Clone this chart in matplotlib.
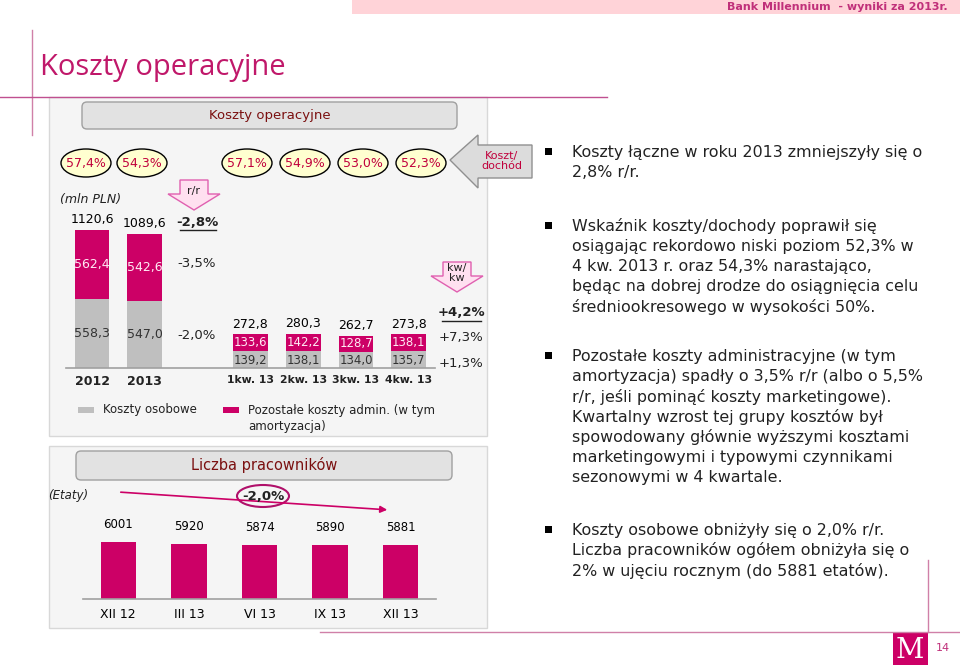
import matplotlib.pyplot as plt
from matplotlib.patches import Rectangle, FancyBboxPatch, Ellipse, Polygon

# --- Data ---
cost_labels = ['2012', '2013', '1kw. 13', '2kw. 13', '3kw. 13', '4kw. 13']
cost_pos = [0, 1, 3, 4, 5, 6]
staff_costs = [558.3, 547.0, 139.2, 138.1, 134.0, 135.7]
admin_costs = [562.4, 542.6, 133.6, 142.2, 128.7, 138.1]
total_costs = [1120.6, 1089.6, 272.8, 280.3, 262.7, 273.8]
cost_income = ['57,4%', '54,3%', '57,1%', '54,9%', '53,0%', '52,3%']
yoy_changes = ['-2,8%', '-3,5%', '-2,0%']
qoq_changes = ['+4,2%', '+7,3%', '+1,3%']

emp_labels = ['XII 12', 'III 13', 'VI 13', 'IX 13', 'XII 13']
employees = [6001, 5920, 5874, 5890, 5881]

PINK = '#CC0066'
GRAY = '#BFBFBF'
DARKRED = '#7B1010'
TXT = '#222222'

W, H = 960, 665
fig = plt.figure(figsize=(W / 100, H / 100), dpi=100)
bg = fig.add_axes([0, 0, 1, 1], zorder=0)
bg.set_xlim(0, W)
bg.set_ylim(H, 0)
bg.axis('off')


def fa(x0, y0, x1, y1):
    # pixel box -> figure fraction rect
    return [x0 / W, 1 - y1 / H, (x1 - x0) / W, (y1 - y0) / H]


# --- Slide decoration ---
bg.add_patch(Rectangle((352, 0), 608, 14, color='#FFD3D8', lw=0))
bg.text(948, 7, 'Bank Millennium  - wyniki za 2013r.', ha='right', va='center',
        fontsize=8, color='#C0307A', fontweight='bold')
bg.plot([32, 32], [30, 135], color='#D080A8', lw=1)
bg.plot([0, 607], [97, 97], color='#C05090', lw=1)
bg.text(40, 68, 'Koszty operacyjne', fontsize=21, color='#C0186A', va='center',
        family='Open Sans')

# panels
bg.add_patch(Rectangle((49, 97), 438, 339, facecolor='#F5F5F5', edgecolor='#D8D8D8', lw=1))
bg.add_patch(Rectangle((49, 446), 438, 182, facecolor='#F5F5F5', edgecolor='#D8D8D8', lw=1))
bg.add_patch(FancyBboxPatch((82, 102), 375, 27, boxstyle='round,pad=0,rounding_size=5',
                            facecolor='#E2E2E2', edgecolor='#A0A0A0', lw=1))
bg.text(270, 116, 'Koszty operacyjne', ha='center', va='center', fontsize=9.5, color=DARKRED)
bg.add_patch(FancyBboxPatch((76, 451), 376, 29, boxstyle='round,pad=0,rounding_size=5',
                            facecolor='#E2E2E2', edgecolor='#A0A0A0', lw=1))
bg.text(264, 465, 'Liczba pracowników', ha='center', va='center', fontsize=10.5, color=DARKRED)

# cost/income ellipses
ell_x = [86, 142, 247, 305, 363, 421]
for x, lab in zip(ell_x, cost_income):
    bg.add_patch(Ellipse((x, 163), 50, 28, facecolor='#FFFFD0', edgecolor='black', lw=1))
    bg.text(x, 163, lab, ha='center', va='center', fontsize=9, color='#C0003C')

# Koszt/dochód arrow
bg.add_patch(Polygon([(450, 160), (478, 135), (478, 145), (532, 145), (532, 178),
                      (478, 178), (478, 188)], closed=True,
                     facecolor='#DCDCDC', edgecolor='#909090', lw=1))
bg.text(502, 161, 'Koszt/\ndochód', ha='center', va='center', fontsize=8,
        color='#C0003C', linespacing=1.1)


# r/r and kw/kw arrows
def down_arrow(cx, top, label):
    pts = [(cx - 14, top), (cx + 14, top), (cx + 14, top + 14), (cx + 26, top + 14),
           (cx, top + 30), (cx - 26, top + 14), (cx - 14, top + 14)]
    bg.add_patch(Polygon(pts, closed=True, facecolor='#FFE0F0', edgecolor='#E060B0', lw=1))
    bg.text(cx, top + 11, label, ha='center', va='center', fontsize=8, color=TXT,
            linespacing=1.0)


down_arrow(194, 180, 'r/r')
down_arrow(457, 262, 'kw/\nkw')

bg.text(60, 200, '(mln PLN)', fontsize=9, style='italic', va='center', color=TXT)

# change columns
for lab, y, bold in zip(yoy_changes, [222, 263, 335], [True, False, False]):
    bg.text(197, y, lab, ha='center', va='center', fontsize=9.5, color=TXT,
            fontweight='bold' if bold else 'normal')
bg.plot([180, 216], [230, 230], color=TXT, lw=1)
for lab, y, bold in zip(qoq_changes, [313, 338, 364], [True, False, False]):
    bg.text(461, y, lab, ha='center', va='center', fontsize=9.5, color=TXT,
            fontweight='bold' if bold else 'normal')
bg.plot([442, 481], [321, 321], color=TXT, lw=1)

# legend
bg.add_patch(Rectangle((78, 407), 16, 6, color=GRAY, lw=0))
bg.text(103, 410, 'Koszty osobowe', fontsize=8.5, va='center', color=TXT)
bg.add_patch(Rectangle((223, 407), 16, 6, color=PINK, lw=0))
bg.text(248, 404, 'Pozostałe koszty admin. (w tym\namortyzacja)', fontsize=8.5, va='top',
        color=TXT, linespacing=1.3)

# --- Cost bars ---
ax = fig.add_axes(fa(44.5, 208, 461.6, 368), zorder=1)
ax.patch.set_alpha(0)
ax.set_xlim(-0.9, 7.0)
ax.set_ylim(0, 1300)
ax.axis('off')
ax.bar(cost_pos, staff_costs, width=0.66, color=GRAY)
ax.bar(cost_pos, admin_costs, width=0.66, bottom=staff_costs, color=PINK)
ax.plot([-0.5, 6.5], [0, 0], color='#A0A0A0', lw=1.2, clip_on=False)
for i, p in enumerate(cost_pos):
    big = i < 2
    fs = 9 if big else 8.5
    ax.text(p, staff_costs[i] / 2 if big else staff_costs[i] * 0.45, f'{staff_costs[i]:.1f}'.replace('.', ','),
            ha='center', va='center', fontsize=fs, color='#333333')
    ax.text(p, staff_costs[i] + admin_costs[i] / 2, f'{admin_costs[i]:.1f}'.replace('.', ','),
            ha='center', va='center', fontsize=fs, color='#FFEAF4')
    ax.text(p, total_costs[i] + 30, f'{total_costs[i]:.1f}'.replace('.', ','),
            ha='center', va='bottom', fontsize=9, color='black')
    ax.text(p, -60, cost_labels[i], ha='center', va='top', fontsize=9 if big else 7.8,
            fontweight='bold', color=TXT, clip_on=False)

# --- Employees ---
bx = fig.add_axes(fa(83, 529, 436, 599), zorder=1)
bx.patch.set_alpha(0)
bx.set_xlim(-0.5, 4.5)
bx.set_ylim(3400, 6600)
bx.axis('off')
xs = range(len(employees))
bx.bar(xs, employees, width=0.5, color=PINK)
bx.plot([-0.5, 4.5], [3400, 3400], color='#A0A0A0', lw=1.2, clip_on=False)
for i, v in enumerate(employees):
    bx.text(i, v + 500, str(v), ha='center', va='bottom', fontsize=8.5, color='black',
            clip_on=False)
    bx.text(i, 2700, emp_labels[i], ha='center', va='center', fontsize=9, color='black',
            clip_on=False)

bg.text(48, 496, '(Etaty)', fontsize=8.5, style='italic', va='center', color=TXT)
bg.annotate('', xy=(390, 510), xytext=(118, 492),
            arrowprops=dict(arrowstyle='-|>', color=PINK, lw=1.2))
bg.add_patch(Ellipse((263, 496), 52, 22, facecolor='#F5F5F5', edgecolor='#B0106A', lw=1.5))
bg.text(263, 496, '-2,0%', ha='center', va='center', fontsize=9.5, fontweight='bold', color=TXT)

# --- Commentary ---
paras = [
    (152, ['Koszty łączne w roku 2013 zmniejszyły się o', '2,8% r/r.']),
    (226, ['Wskaźnik koszty/dochody poprawił się',
           'osiągając rekordowo niski poziom 52,3% w',
           '4 kw. 2013 r. oraz 54,3% narastająco,',
           'będąc na dobrej drodze do osiągnięcia celu',
           'średniookresowego w wysokości 50%.']),
    (356, ['Pozostałe koszty administracyjne (w tym',
           'amortyzacja) spadły o 3,5% r/r (albo o 5,5%',
           'r/r, jeśli pominąć koszty marketingowe).',
           'Kwartalny wzrost tej grupy kosztów był',
           'spowodowany głównie wyższymi kosztami',
           'marketingowymi i typowymi czynnikami',
           'sezonowymi w 4 kwartale.']),
    (530, ['Koszty osobowe obniżyły się o 2,0% r/r.',
           'Liczba pracowników ogółem obniżyła się o',
           '2% w ujęciu rocznym (do 5881 etatów).']),
]
for y0, lines in paras:
    bg.add_patch(Rectangle((545, y0 - 4), 7, 7, color='black', lw=0))
    for k, line in enumerate(lines):
        bg.text(572, y0 + k * 20.3, line, fontsize=11.4, va='center', color=TXT)

# footer
bg.plot([320, 960], [632, 632], color='#D080A8', lw=1)
bg.plot([928, 928], [560, 632], color='#D080A8', lw=1)
bg.add_patch(Rectangle((893, 632), 35, 33, color=PINK, lw=0))
bg.text(910, 650, 'M', ha='center', va='center', fontsize=20, color='white', family='DejaVu Serif')
bg.text(943, 648, '14', ha='center', va='center', fontsize=8, color='#C0307A')

fig.savefig('out.png', dpi=100)
